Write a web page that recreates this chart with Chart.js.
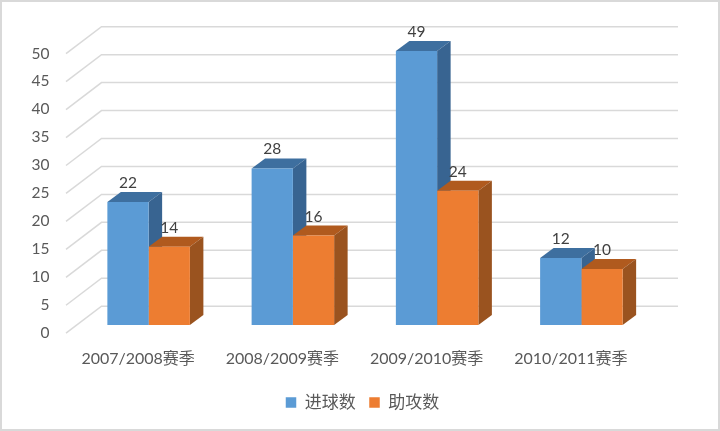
<!DOCTYPE html>
<html>
<head>
<meta charset="utf-8">
<script src="https://cdn.jsdelivr.net/npm/chart.js@4"></script>
<style>
html, body { margin: 0; padding: 0; background: #fff; }
canvas { display: block; }
</style>
</head>
<body>
<canvas id="golesCanvas" width="720" height="431"></canvas>
<script>
const temporadas = ['2007/2008赛季', '2008/2009赛季', '2009/2010赛季', '2010/2011赛季'];
const goles = [22, 28, 49, 12];
const asistencias = [14, 16, 24, 10];
const yMax = 50;
const yStep = 5;

const fuente = 'Lato, "Noto Sans CJK SC", sans-serif';
const colores = [
    { frente: '#5b9bd5', techo: '#3e6f9f', lado: '#386491' },
    { frente: '#ed7d31', techo: '#b05a1e', lado: '#9a531f' }
];

// Profundidad de las barras (falso 3D)
const fondoBarraX = 13.5, fondoBarraY = 10;

const falso3D = {
    id: 'falso3D',
    beforeDraw(chart) {
        const ctx = chart.ctx;
        ctx.save();
        ctx.fillStyle = '#fff';
        ctx.fillRect(0, 0, chart.width, chart.height);
        ctx.strokeStyle = '#d9d9d9';
        ctx.lineWidth = 2;
        ctx.strokeRect(1, 1, chart.width - 2, chart.height - 2);
        ctx.restore();
    },
    beforeDatasetsDraw(chart) {
        const { ctx, chartArea, scales } = chart;
        ctx.save();
        // Lineas de la cuadricula: pared izquierda y pared del fondo
        ctx.strokeStyle = '#d9d9d9';
        ctx.lineWidth = 1.5;
        scales.y.ticks.forEach(t => {
            const y = scales.y.getPixelForValue(t.value);
            ctx.beginPath();
            ctx.moveTo(chartArea.left - 10.5, y + 8.2);
            ctx.lineTo(chartArea.left + 25, y - 18.8);
            ctx.lineTo(chartArea.right + 24.5, y - 18.8);
            ctx.stroke();
        });
        // Techo y lado de cada barra, antes de los frentes (Chart.js pinta el ultimo dataset primero)
        const base = scales.y.getPixelForValue(0);
        chart.data.datasets.forEach((ds, i) => {
            const c = colores[i];
            chart.getDatasetMeta(i).data.forEach(bar => {
                const izq = bar.x - bar.width / 2;
                const der = bar.x + bar.width / 2;
                ctx.fillStyle = c.techo;
                ctx.beginPath();
                ctx.moveTo(izq, bar.y);
                ctx.lineTo(izq + fondoBarraX, bar.y - fondoBarraY);
                ctx.lineTo(der + fondoBarraX, bar.y - fondoBarraY);
                ctx.lineTo(der, bar.y);
                ctx.closePath();
                ctx.fill();
                ctx.fillStyle = c.lado;
                ctx.beginPath();
                ctx.moveTo(der, bar.y);
                ctx.lineTo(der + fondoBarraX, bar.y - fondoBarraY);
                ctx.lineTo(der + fondoBarraX, base - fondoBarraY);
                ctx.lineTo(der, base);
                ctx.closePath();
                ctx.fill();
            });
        });
        ctx.restore();
    },
    afterDraw(chart) {
        // Etiquetas de valor encima de cada barra
        const ctx = chart.ctx;
        ctx.save();
        ctx.font = '15.5px ' + fuente;
        ctx.fillStyle = '#404040';
        ctx.textAlign = 'center';
        ctx.textBaseline = 'middle';
        chart.data.datasets.forEach((ds, i) => {
            chart.getDatasetMeta(i).data.forEach((bar, j) => {
                ctx.fillText(ds.data[j], bar.x, bar.y - 19);
            });
        });
        ctx.restore();
    }
};

new Chart(document.getElementById('golesCanvas').getContext('2d'), {
    type: 'bar',
    data: {
        labels: temporadas,
        datasets: [
            { label: '进球数', data: goles, backgroundColor: colores[0].frente },
            { label: '助攻数', data: asistencias, backgroundColor: colores[1].frente }
        ]
    },
    options: {
        responsive: false,
        animation: false,
        devicePixelRatio: 1,
        categoryPercentage: 0.572,
        barPercentage: 1,
        layout: { padding: { top: 45.5, right: 0, bottom: 10, left: 5 } },
        scales: {
            x: {
                grid: { display: false },
                border: { display: false },
                afterFit: scale => { scale.height = 55.5; },
                ticks: {
                    padding: 16,
                    labelOffset: -10.5,
                    maxRotation: 0,
                    color: '#595959',
                    font: { family: fuente, size: 16 }
                }
            },
            y: {
                min: 0,
                max: yMax,
                grid: { display: false },
                border: { display: false },
                afterFit: scale => { scale.width = 71.5; },
                ticks: {
                    stepSize: yStep,
                    padding: 19,
                    labelOffset: 8,
                    color: '#595959',
                    font: { family: fuente, size: 15.5 }
                }
            },
            // Eje vacio: reserva el margen derecho sin descentrar la leyenda
            margen: {
                position: 'right',
                grid: { display: false },
                border: { display: false },
                ticks: { display: false },
                afterFit: scale => { scale.width = 66.5; }
            }
        },
        plugins: {
            tooltip: { enabled: false },
            legend: {
                position: 'bottom',
                labels: {
                    boxWidth: 10.5,
                    boxHeight: 10.5,
                    padding: 13.5,
                    color: '#595959',
                    font: { family: fuente, size: 17 }
                }
            }
        }
    },
    plugins: [falso3D]
});
</script>
</body>
</html>
